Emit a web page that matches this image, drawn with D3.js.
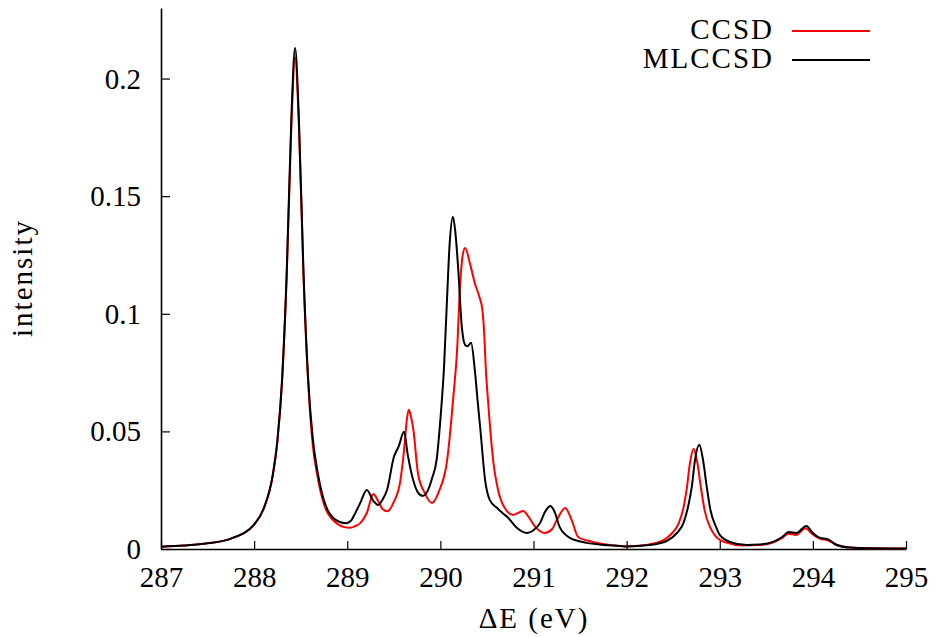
<!DOCTYPE html>
<html>
<head>
<meta charset="utf-8">
<script src="https://cdn.jsdelivr.net/npm/d3@7"></script>
<style>
  html, body { margin: 0; padding: 0; background: #fff; }
  svg { display: block; }
  text { font-family: "Liberation Serif", "DejaVu Serif", serif; fill: #000; }
</style>
</head>
<body>
<svg id="chart" width="936" height="637"></svg>
<script>
// ---- data ----
const ccsdEnergy = [287.00,287.25,287.50,287.75,288.00,288.10,288.20,288.25,288.30,288.35,288.40,288.44,288.48,288.53,288.58,288.63,288.68,288.71,288.78,288.83,288.89,288.96,289.03,289.09,289.14,289.21,289.28,289.33,289.38,289.43,289.50,289.57,289.61,289.64,289.66,289.68,289.71,289.76,289.83,289.91,289.99,290.07,290.14,290.18,290.21,290.24,290.265,290.32,290.37,290.42,290.45,290.47,290.49,290.51,290.53,290.57,290.62,290.69,290.78,290.89,290.95,291.02,291.12,291.20,291.25,291.34,291.41,291.48,291.64,291.93,292.00,292.20,292.38,292.49,292.56,292.61,292.645,292.68,292.72,292.76,292.80,292.84,292.90,292.95,293.06,293.25,293.43,293.57,293.67,293.74,293.82,293.92,294.00,294.08,294.15,294.26,294.40,294.60,295.00];
const ccsdIntensity = [0.0010,0.0015,0.0024,0.0044,0.0103,0.0168,0.0312,0.0458,0.0712,0.1160,0.1800,0.2090,0.1810,0.1160,0.0710,0.0440,0.0310,0.0250,0.0160,0.0130,0.0108,0.0094,0.0090,0.0098,0.0110,0.0153,0.0234,0.0205,0.0170,0.0160,0.0200,0.0290,0.0420,0.0550,0.0592,0.0570,0.0506,0.0320,0.0240,0.0196,0.0250,0.0370,0.0650,0.0850,0.1110,0.1250,0.1280,0.1210,0.1130,0.1070,0.1020,0.0920,0.0750,0.0640,0.0535,0.0365,0.0250,0.0175,0.0145,0.0162,0.0135,0.0094,0.0068,0.0085,0.0123,0.0174,0.0123,0.0051,0.0030,0.0013,0.0011,0.0017,0.0034,0.0068,0.0110,0.0175,0.0255,0.0365,0.0426,0.0365,0.0255,0.0160,0.0090,0.0057,0.0028,0.0015,0.0017,0.0027,0.0047,0.0065,0.0060,0.0088,0.0062,0.0043,0.0038,0.0016,0.0006,0.0003,0.0002];

const mlccsdEnergy = [287.00,287.25,287.50,287.75,288.00,288.10,288.20,288.25,288.30,288.35,288.40,288.44,288.48,288.53,288.58,288.63,288.68,288.74,288.79,288.85,288.92,288.99,289.04,289.08,289.14,289.21,289.28,289.33,289.38,289.43,289.50,289.55,289.61,289.65,289.71,289.76,289.81,289.86,289.91,289.96,290.00,290.04,290.07,290.10,290.135,290.16,290.19,290.23,290.265,290.29,290.33,290.37,290.40,290.43,290.48,290.53,290.61,290.67,290.72,290.82,290.93,291.00,291.07,291.12,291.18,291.23,291.28,291.34,291.39,291.48,291.57,291.75,291.93,292.00,292.25,292.43,292.54,292.61,292.66,292.70,292.735,292.78,292.82,292.86,292.90,292.96,293.00,293.11,293.29,293.43,293.57,293.67,293.74,293.82,293.93,294.00,294.08,294.15,294.26,294.40,294.60,295.00];
const mlccsdIntensity = [0.0010,0.0015,0.0024,0.0044,0.0105,0.0170,0.0315,0.0462,0.0720,0.1177,0.1836,0.2130,0.1836,0.1180,0.0725,0.0470,0.0330,0.0220,0.0165,0.0132,0.0115,0.0110,0.0120,0.0148,0.0196,0.0251,0.0205,0.0187,0.0210,0.0255,0.0390,0.0434,0.0498,0.0400,0.0290,0.0240,0.0226,0.0245,0.0300,0.0380,0.0550,0.0780,0.1050,0.1300,0.1413,0.1350,0.1200,0.0945,0.0868,0.0862,0.0877,0.0760,0.0630,0.0506,0.0294,0.0209,0.0174,0.0152,0.0136,0.0090,0.0068,0.0080,0.0110,0.0155,0.0183,0.0155,0.0094,0.0062,0.0047,0.0034,0.0026,0.0017,0.0013,0.0011,0.0017,0.0034,0.0068,0.0110,0.0180,0.0265,0.0380,0.0443,0.0380,0.0265,0.0166,0.0094,0.0060,0.0030,0.0017,0.0019,0.0030,0.0051,0.0072,0.0068,0.0098,0.0068,0.0047,0.0043,0.0017,0.0006,0.0003,0.0002];

const xTickValues = [287,288,289,290,291,292,293,294,295];
const xTickLabels = ["287","288","289","290","291","292","293","294","295"];
const yTickValues = [0,0.05,0.1,0.15,0.2];
const yTickLabels = ["0","0.05","0.1","0.15","0.2"];
const seriesNames = ["CCSD","MLCCSD"];
const seriesColors = ["#ff0000","#000000"];

// ---- layout ----
const W = 936, H = 637;
const margin = {left: 161, right: 30, top: 8, bottom: 88};
const svg = d3.select("#chart");
const SERIF = '"Liberation Serif", "DejaVu Serif", serif';

const x = d3.scaleLinear().domain([287, 295]).range([margin.left, W - margin.right]);
const y = d3.scaleLinear().domain([0, 0.23]).range([H - margin.bottom, margin.top]);

const FS = 29;

// axes
const xAxis = d3.axisBottom(x).tickValues(xTickValues)
  .tickFormat((d, i) => xTickLabels[i]).tickSizeInner(-8).tickSizeOuter(0);
const gx = svg.append("g").attr("transform", `translate(0,${y(0)})`).call(xAxis);
gx.select(".domain").attr("stroke", "#000").attr("stroke-width", 1.6);
gx.selectAll(".tick line").attr("stroke", "#000").attr("stroke-width", 1.2);
gx.selectAll(".tick text").attr("y", 38).attr("dy", 0)
  .style("font-family", SERIF).style("font-size", FS + "px").attr("fill", "#000");

const yAxis = d3.axisLeft(y).tickValues(yTickValues)
  .tickFormat((d, i) => yTickLabels[i]).tickSizeInner(-9).tickSizeOuter(0).tickPadding(20);
const gy = svg.append("g").attr("transform", `translate(${x(287)},0)`).call(yAxis);
gy.select(".domain").attr("stroke", "#000").attr("stroke-width", 1.6);
gy.selectAll(".tick line").attr("stroke", "#000").attr("stroke-width", 1.2);
gy.selectAll(".tick text").attr("dy", "0.33em")
  .style("font-family", SERIF).style("font-size", FS + "px").attr("fill", "#000");

// axis titles
svg.append("text")
  .attr("x", 534).attr("y", 628)
  .attr("text-anchor", "middle")
  .style("font-family", SERIF)
  .style("font-size", FS + "px")
  .style("letter-spacing", "2px")
  .text("ΔE (eV)");

svg.append("text")
  .attr("transform", "translate(32,278) rotate(-90)")
  .attr("text-anchor", "middle")
  .style("font-family", SERIF)
  .style("font-size", FS + "px")
  .style("letter-spacing", "2px")
  .text("intensity");

// lines
const line = d3.line().curve(d3.curveMonotoneX);
const ccsdPts = ccsdEnergy.map((e, i) => [x(e), y(ccsdIntensity[i])]);
const mlPts = mlccsdEnergy.map((e, i) => [x(e), y(mlccsdIntensity[i])]);

svg.append("path").attr("d", line(ccsdPts))
  .attr("fill", "none").attr("stroke", seriesColors[0]).attr("stroke-width", 2)
  .attr("stroke-linejoin", "round");
svg.append("path").attr("d", line(mlPts))
  .attr("fill", "none").attr("stroke", seriesColors[1]).attr("stroke-width", 2)
  .attr("stroke-linejoin", "round");

// legend
const legend = svg.append("g");
seriesNames.forEach((name, i) => {
  const by = 39 + i * 29;
  legend.append("text")
    .attr("x", 774).attr("y", by)
    .attr("text-anchor", "end")
    .style("font-family", SERIF)
    .style("font-size", FS + "px")
    .style("letter-spacing", "2px")
    .text(name);
  legend.append("line")
    .attr("x1", 792).attr("x2", 870)
    .attr("y1", by - 8).attr("y2", by - 8)
    .attr("stroke", seriesColors[i]).attr("stroke-width", 2);
});
</script>
</body>
</html>
